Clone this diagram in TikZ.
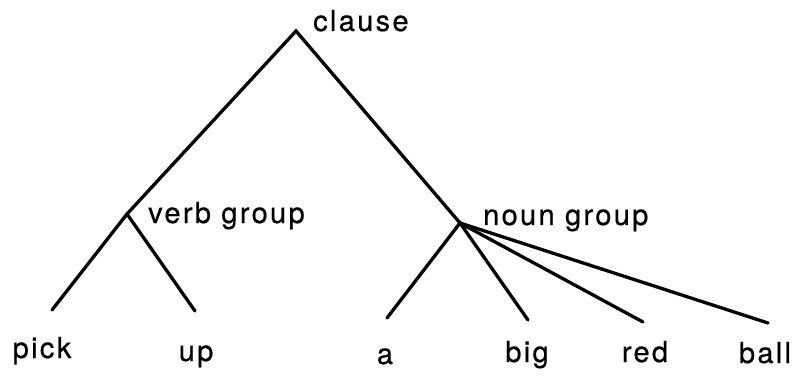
\documentclass[tikz,border=0pt]{standalone}
\usepackage{fontspec}
\setmainfont{TeX Gyre Heros}[LetterSpace=8,FakeBold=0.6]
\begin{document}
\begin{tikzpicture}[x=1pt,y=-1pt,
  branch/.style={line width=3.3pt,line cap=round},
  lbl/.style={inner sep=0pt,font=\fontsize{29}{32}\selectfont}]
\useasboundingbox (0,0) rectangle (794,379);
% vertices
\coordinate (cl) at (296,31);
\coordinate (vg) at (127,214);
\coordinate (ng) at (460,223);
% line ends above leaves
\coordinate (epick) at (52,310);
\coordinate (eup) at (195,311);
\coordinate (ea) at (387,318);
\coordinate (ebig) at (528,320);
\coordinate (ered) at (643,322);
\coordinate (eball) at (768,323);
% labels
\node[lbl,anchor=base west] (tcl) at (313,31) {clause};
\node[lbl,anchor=base west] (tvg) at (148,223) {verb group};
\node[lbl,anchor=base west] (tng) at (483,225) {noun group};
\node[lbl,anchor=base] (pick) at (42,358) {pick};
\node[lbl,anchor=base] (up) at (196,361) {up};
\node[lbl,anchor=base] (a) at (385,364) {a};
\node[lbl,anchor=base] (big) at (527,362) {big};
\node[lbl,anchor=base] (red) at (645,362) {red};
\node[lbl,anchor=base] (ball) at (765,363) {ball};
% branches
\draw[branch] (vg) -- (cl) -- (ng);
\draw[branch] (epick) -- (vg) -- (eup);
\draw[branch] (ea) -- (ng) -- (ebig);
\draw[branch] (ng) -- (ered);
\draw[branch] (ng) -- (eball);
\end{tikzpicture}
\end{document}
